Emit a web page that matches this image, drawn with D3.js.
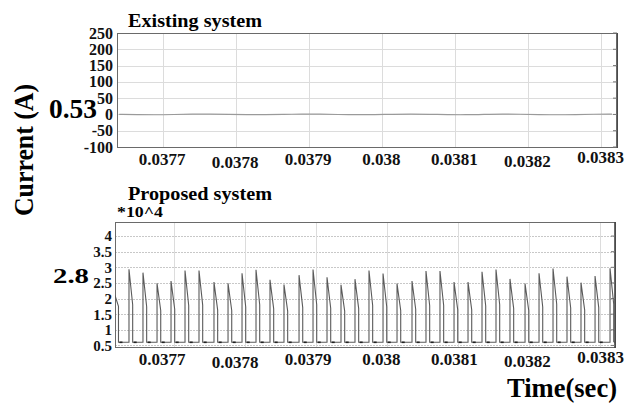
<!DOCTYPE html>
<html>
<head>
<meta charset="utf-8">
<script src="https://cdn.jsdelivr.net/npm/d3@7/dist/d3.min.js"></script>
<style>
  body { margin: 0; background: #fff; }
  svg, svg text { font-family: 'Liberation Serif', 'Times New Roman', serif !important; font-weight: bold; }
  .grid-h line, .grid-v line { stroke: #dcdcdc; stroke-width: 1; shape-rendering: crispEdges; }
  .dotted line { stroke: #c8c8c8; stroke-dasharray: 1.5 1.5; }
  .frame { fill: none; stroke: #6a6a6a; stroke-width: 1; shape-rendering: crispEdges; }
  .edge { stroke: #444; stroke-width: 1.6; }
  .axis text { fill: #111; }
  .axis .domain { display: none; }
</style>
</head>
<body>
<div class="current-chart"><svg></svg></div>
<script>
// x axis (shared labels)
const xTicks = [0.0377, 0.0378, 0.0379, 0.038, 0.0381, 0.0382, 0.0383]
const xTickLabels = ['0.0377', '0.0378', '0.0379', '0.038', '0.0381', '0.0382', '0.0383']

// existing system panel
const existingTicks = [-100, -50, 0, 50, 100, 150, 200, 250]
const existingTime = [
  0.03764, 0.037665, 0.03769, 0.037715, 0.03774, 0.037765, 0.03779,
  0.037815, 0.03784, 0.037865, 0.03789, 0.037915, 0.03794, 0.037965,
  0.03799, 0.038015, 0.03804, 0.038065, 0.03809, 0.038115, 0.03814,
  0.038165, 0.03819, 0.038215, 0.03824, 0.038265, 0.03829, 0.038315
]
const existingCurrent = [
  0.4, -0.6, -1.2, -0.3, 0.8, 1.1, 0.2, -0.9, -1.0, 0.1, 1.0, 0.9, -0.2, -1.1,
  -0.7, 0.5, 1.2, 0.4, -0.8, -1.1, 0.0, 1.0, 0.7, -0.4, -1.2, -0.5, 0.6, 1.1
]

// proposed system panel (values in units of 10^4)
const proposedTicks = [0.5, 1, 1.5, 2, 2.5, 3, 3.5, 4]
const proposedTickLabels = ['0.5', '1', '1.5', '2', '2.5', '3', '3.5', '4']
const leadTime = [0.0376169, 0.0376218]
const leadCurrent = [2.1, 1.75]
const pulseBase = 0.6
const pulseWidth = 0.0000052
const pulseTime = [
  0.0376366, 0.0376563, 0.0376761, 0.0376958, 0.0377155, 0.0377352, 0.0377563,
  0.0377761, 0.0377958, 0.0378155, 0.0378352, 0.0378549, 0.0378761, 0.0378958,
  0.0379155, 0.0379352, 0.0379549, 0.0379746, 0.0379944, 0.0380141, 0.0380352,
  0.0380549, 0.0380746, 0.0380944, 0.0381141, 0.0381338, 0.0381535, 0.0381732,
  0.0381944, 0.0382141, 0.0382338, 0.0382535, 0.0382732, 0.038293, 0.0383141
]
const pulsePeak = [
  2.94, 2.83, 2.49, 2.56, 2.90, 2.90, 2.53, 2.49, 2.81, 2.92, 2.60, 2.45, 2.75, 2.93,
  2.68, 2.44, 2.62, 2.90, 2.80, 2.48, 2.56, 2.88, 2.88, 2.53, 2.53, 2.86, 2.93, 2.63,
  2.48, 2.81, 2.96, 2.70, 2.51, 2.72, 2.97
]
const pulseFall = [
  1.80, 1.74, 1.62, 1.66, 1.78, 1.79, 1.63, 1.62, 1.73, 1.80, 1.67, 1.60, 1.71, 1.80,
  1.69, 1.60, 1.68, 1.78, 1.74, 1.62, 1.66, 1.77, 1.78, 1.64, 1.64, 1.76, 1.80, 1.68,
  1.62, 1.73, 1.82, 1.70, 1.63, 1.71, 1.82
]

function currentChart () {
  const svg = d3.select('.current-chart svg').attr('width', 625).attr('height', 405)
  const labelX = d3.scaleLinear().domain([0.0377, 0.0383]).range([161.5, 600])
  const labelNudge = [0, 3, 0, 0, 0, 2, -2]

  const panels = {
    existing: {
      box: { left: 117, top: 33, right: 617, bottom: 147 },
      x: d3.scaleLinear().domain([0.03763699, 0.03832192]),
      y: d3.scaleLinear().domain([-100, 250]),
      ticks: existingTicks,
      labels: existingTicks.map(String),
      size: 16,
      dotted: false
    },
    proposed: {
      box: { left: 115, top: 222, right: 615, bottom: 347 },
      x: d3.scaleLinear().domain([0.0376169, 0.0383211]),
      y: d3.scaleLinear().domain([0.45, 4.45]),
      ticks: proposedTicks,
      labels: proposedTickLabels,
      size: 15,
      dotted: true
    }
  }

  const drawFrame = (key, p) => {
    const b = p.box
    p.x.range([b.left, b.right])
    p.y.range([b.bottom, b.top])
    const g = svg.append('g').attr('class', 'panel-' + key)

    g.append('g').attr('class', 'grid-h' + (p.dotted ? ' dotted' : ''))
      .selectAll('line').data(p.ticks).join('line')
      .attr('x1', b.left).attr('x2', b.right)
      .attr('y1', d => Math.round(p.y(d)) + 0.5).attr('y2', d => Math.round(p.y(d)) + 0.5)

    g.append('g').attr('class', 'grid-v')
      .selectAll('line').data(xTicks).join('line')
      .attr('x1', d => Math.round(p.x(d)) + 0.5).attr('x2', d => Math.round(p.x(d)) + 0.5)
      .attr('y1', b.top).attr('y2', b.bottom)

    g.append('rect').attr('class', 'frame')
      .attr('x', b.left + 0.5).attr('y', b.top + 0.5)
      .attr('width', b.right - b.left).attr('height', b.bottom - b.top)

    g.append('line').attr('class', 'edge')
      .attr('x1', b.right).attr('x2', b.right).attr('y1', b.top).attr('y2', b.bottom + 1)

    g.append('g').attr('class', 'edge-ticks')
      .selectAll('line').data(p.ticks).join('line')
      .attr('x1', b.right - 4).attr('x2', b.right)
      .attr('y1', d => p.y(d)).attr('y2', d => p.y(d))
      .attr('stroke', '#777')

    const axisY = d3.axisLeft(p.y)
      .tickValues(p.ticks)
      .tickSize(0)
      .tickPadding(key === 'existing' ? 4 : 3)
      .tickFormat((d, i) => p.labels[i])
    g.append('g').attr('class', 'axis axis-y')
      .attr('transform', `translate(${b.left},0)`)
      .call(axisY)
      .selectAll('text')
      .attr('font-size', p.size)

    const axisX = d3.axisBottom(labelX)
      .tickValues(xTicks)
      .tickSize(0)
      .tickFormat((d, i) => xTickLabels[i])
    g.append('g').attr('class', 'axis axis-x')
      .attr('transform', `translate(0,${b.bottom})`)
      .call(axisX)
      .selectAll('text')
      .attr('dy', null)
      .attr('y', (d, i) => 18 + labelNudge[i])
      .attr('font-size', 17)

    g.append('clipPath').attr('id', 'clip-' + key)
      .append('rect')
      .attr('x', b.left).attr('y', b.top)
      .attr('width', b.right - b.left).attr('height', b.bottom - b.top)

    return g
  }

  // existing system
  const pe = panels.existing
  const ge = drawFrame('existing', pe)
  const existingLine = d3.line()
    .x((d, i) => pe.x(existingTime[i]))
    .y(d => pe.y(d))
    .curve(d3.curveBasis)
  ge.append('path')
    .attr('clip-path', 'url(#clip-existing)')
    .attr('d', existingLine(existingCurrent))
    .attr('fill', 'none')
    .attr('stroke', '#9a9a9a')
    .attr('stroke-width', 1.2)

  // proposed system
  const pp = panels.proposed
  const gp = drawFrame('proposed', pp)
  const wave = leadTime.map((t, i) => [t, leadCurrent[i]])
  wave.push([leadTime[leadTime.length - 1], pulseBase])
  pulseTime.forEach((t, i) => {
    wave.push([t, pulseBase], [t, pulsePeak[i]], [t + pulseWidth, pulseFall[i]], [t + pulseWidth, pulseBase])
  })
  const waveLine = d3.line().x(d => pp.x(d[0])).y(d => pp.y(d[1]))
  gp.append('path')
    .attr('clip-path', 'url(#clip-proposed)')
    .attr('d', waveLine(wave))
    .attr('fill', 'none')
    .attr('stroke', '#5a5a5a')
    .attr('stroke-width', 1.1)

  // dark feet after each drop
  const feet = [leadTime[leadTime.length - 1]].concat(pulseTime.map(t => t + pulseWidth))
  gp.append('g').attr('clip-path', 'url(#clip-proposed)')
    .selectAll('line').data(feet).join('line')
    .attr('x1', d => pp.x(d) + 1).attr('x2', d => pp.x(d) + 4)
    .attr('y1', pp.y(pulseBase)).attr('y2', pp.y(pulseBase))
    .attr('stroke', '#222').attr('stroke-width', 1.6)

  // titles and labels
  svg.append('text').attr('x', 128).attr('y', 27)
    .attr('font-size', 18).attr('textLength', 134).attr('lengthAdjust', 'spacingAndGlyphs')
    .text('Existing system')

  svg.append('text').attr('x', 128).attr('y', 200)
    .attr('font-size', 18).attr('textLength', 144).attr('lengthAdjust', 'spacingAndGlyphs')
    .text('Proposed system')

  svg.append('text').attr('x', 117).attr('y', 217)
    .attr('font-size', 15).attr('textLength', 46).attr('lengthAdjust', 'spacingAndGlyphs')
    .text('*10^4')

  svg.append('text').attr('x', 49).attr('y', 118)
    .attr('font-size', 27).attr('textLength', 48).attr('lengthAdjust', 'spacingAndGlyphs')
    .text('0.53')

  svg.append('text').attr('x', 53).attr('y', 283)
    .attr('font-size', 21).attr('textLength', 36).attr('lengthAdjust', 'spacingAndGlyphs')
    .text('2.8')

  svg.append('text')
    .attr('transform', 'translate(33,150) rotate(-90)')
    .attr('text-anchor', 'middle')
    .attr('font-size', 27).attr('textLength', 132).attr('lengthAdjust', 'spacingAndGlyphs')
    .text('Current (A)')

  svg.append('text').attr('x', 507).attr('y', 397)
    .attr('font-size', 27).attr('textLength', 110).attr('lengthAdjust', 'spacingAndGlyphs')
    .text('Time(sec)')
}

currentChart()
</script>
</body>
</html>
